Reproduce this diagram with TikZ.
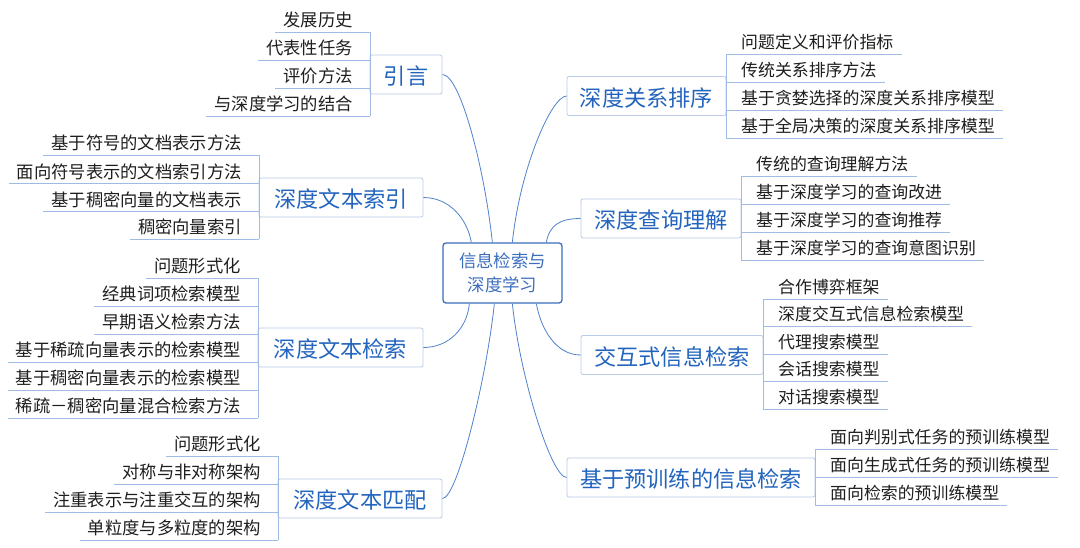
\documentclass[tikz,border=0pt]{standalone}
\usepackage{fontspec}
\setmainfont{Noto Sans CJK SC}
\definecolor{connc}{RGB}{80,130,205}
\definecolor{ulinec}{RGB}{160,188,228}
\definecolor{boxc}{RGB}{185,203,230}
\definecolor{branchtext}{RGB}{35,100,190}
\definecolor{centerc}{RGB}{60,110,190}
\definecolor{leaftext}{RGB}{30,30,30}
\tikzset{
  leaf/.style={text=leaftext, font=\fontsize{16.9}{20}\selectfont, text height=14pt, text depth=1.2pt, inner xsep=8pt, inner ysep=4.4pt},
  leafL/.style={leaf, font=\fontsize{17.3}{20}\selectfont, text height=14.3pt, text depth=1.2pt, inner ysep=4.3pt},
  uline/.style={draw=ulinec, line width=0.9pt},
  branch/.style={draw=boxc, line width=0.8pt, rounded corners=2pt, text=branchtext, font=\fontsize{22.2}{26}\selectfont, text height=22.4pt, text depth=1.6pt, inner sep=0pt, minimum height=39pt},
  center/.style={draw=centerc, line width=1.3pt, rounded corners=3pt, text=centerc, font=\fontsize{17.4}{24}\selectfont, align=center, minimum width=119pt, minimum height=60pt, inner sep=0pt},
  conn/.style={draw=connc, line width=0.8pt}
}
\newcommand\leftleaves[4]{%
  \coordinate (#1bar) at (#2,0);
  \foreach \yy/\lbl [count=\k] in {#4}{%
    \node[leafL,anchor=east] (#1l\k) at (#2-9,\yy) {\lbl};
    \draw[uline] (#1l\k.south west) -- (#1l\k.south west -| #1bar);
  }
  \draw[uline] (#1l1.south -| #1bar) -- (#1l#3.south -| #1bar);
}
\newcommand\rightleaves[4]{%
  \coordinate (#1bar) at (#2,0);
  \foreach \yy/\lbl [count=\k] in {#4}{%
    \node[leaf,anchor=west] (#1l\k) at (#2+7,\yy) {\lbl};
    \draw[uline] (#1l\k.south east) -- (#1l\k.south east -| #1bar);
  }
  \draw[uline] (#1l1.south -| #1bar) -- (#1l#3.south -| #1bar);
}
\begin{document}
\begin{tikzpicture}[x=1pt,y=-1pt]
\useasboundingbox[fill=white] (0,0) rectangle (1080,547);

% center
\node[center] (c) at (502.5,273) {信息检索与\\深度学习};

% branches
\node[branch, minimum width=72pt]  (b1) at (406,74.5)  {引言};
\node[branch, minimum width=164pt] (b2) at (341,197.5) {深度文本索引};
\node[branch, minimum width=165pt] (b3) at (340.5,347.5) {深度文本检索};
\node[branch, minimum width=164pt] (b4) at (360,498.5) {深度文本匹配};
\node[branch, minimum width=159pt] (b5) at (646.5,96) {深度关系排序};
\node[branch, minimum width=160pt] (b6) at (661,218.5) {深度查询理解};
\node[branch, minimum width=182pt] (b7) at (672,355) {交互式信息检索};
\node[branch, minimum width=248pt] (b8) at (691,477.5) {基于预训练的信息检索};

% leaves
\leftleaves{a}{370}{4}{20/发展历史, 48/代表性任务, 76/评价方法, 104/与深度学习的结合}
\leftleaves{b}{259}{4}{143/基于符号的文档表示方法, 171.5/面向符号表示的文档索引方法, 199.5/基于稠密向量的文档表示, 227/稠密向量索引}
\leftleaves{d}{258}{6}{266/问题形式化, 294/经典词项检索模型, 322/早期语义检索方法, 350/基于稀疏向量表示的检索模型, 378/基于稠密向量表示的检索模型, 406/稀疏－稠密向量混合检索方法}
\leftleaves{e}{278}{4}{444/问题形式化, 472/对称与非对称架构, 500/注重表示与注重交互的架构, 528/单粒度与多粒度的架构}
\rightleaves{f}{726}{4}{42/问题定义和评价指标, 70/传统关系排序方法, 98/基于贪婪选择的深度关系排序模型, 126/基于全局决策的深度关系排序模型}
\rightleaves{g}{741}{4}{164/传统的查询理解方法, 192/基于深度学习的查询改进, 220/基于深度学习的查询推荐, 248/基于深度学习的查询意图识别}
\rightleaves{h}{763}{5}{287/合作博弈框架, 314.5/深度交互式信息检索模型, 342/代理搜索模型, 369.5/会话搜索模型, 397/对话搜索模型}
\rightleaves{k}{815}{3}{437/面向判别式任务的预训练模型, 465/面向生成式任务的预训练模型, 493/面向检索的预训练模型}

% connectors
\draw[conn] (b1.east) to[out=0,in=96,out distance=18pt,in distance=73pt] ([xshift=50pt]c.north west);
\draw[conn] (b2.east) to[out=0,in=100,out distance=26pt,in distance=24pt] ([xshift=29pt]c.north west);
\draw[conn] (b3.east) to[out=0,in=-95,out distance=26pt,in distance=24pt] ([xshift=27pt]c.south west);
\draw[conn] (b4.east) to[out=0,in=-96,out distance=15pt,in distance=75pt] ([xshift=52pt]c.south west);
\draw[conn] (b5.west) to[out=180,in=84,out distance=15pt,in distance=75pt] ([xshift=70pt]c.north west);
\draw[conn] (b6.west) to[out=180,in=80,out distance=20pt,in distance=18pt] ([xshift=104pt]c.north west);
\draw[conn] (b7.west) to[out=180,in=-80,out distance=25pt,in distance=25pt] ([xshift=94pt]c.south west);
\draw[conn] (b8.west) to[out=180,in=-84,out distance=15pt,in distance=75pt] ([xshift=70pt]c.south west);
\end{tikzpicture}
\end{document}
